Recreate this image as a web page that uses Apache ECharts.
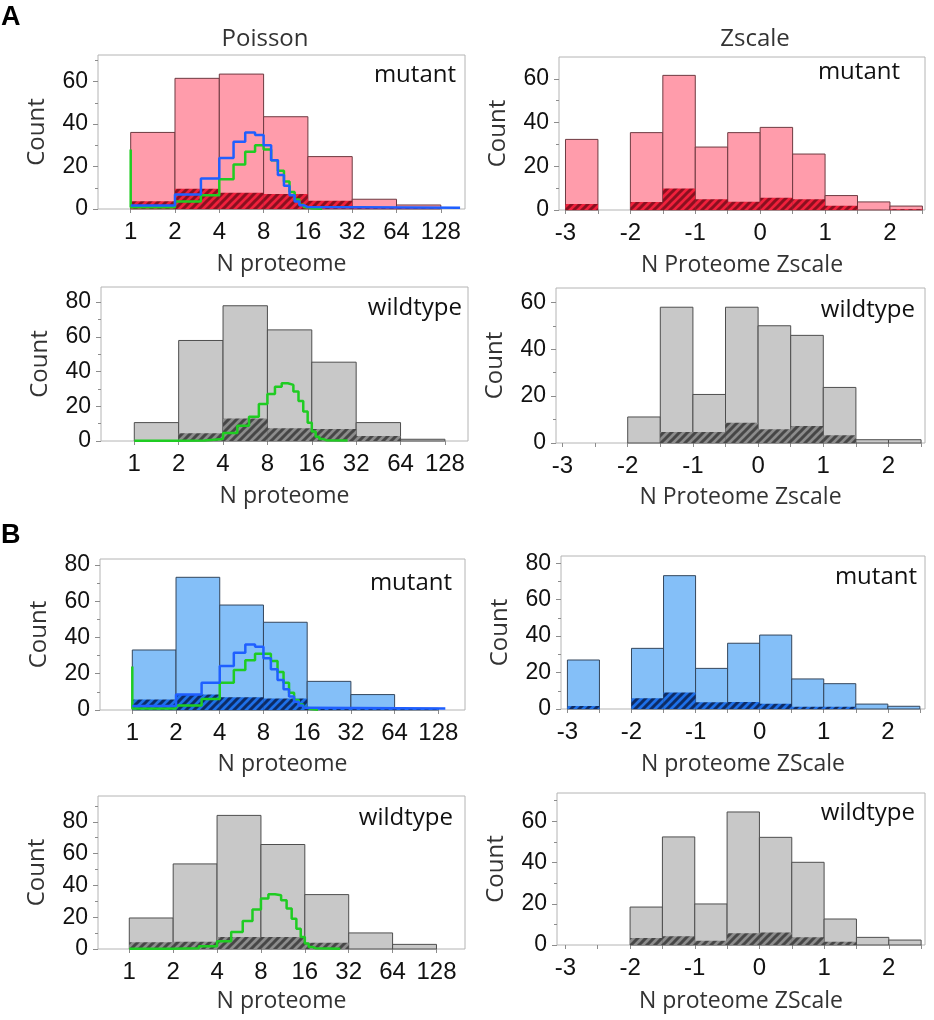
<!DOCTYPE html>
<html><head><meta charset="utf-8">
<script src="https://cdn.jsdelivr.net/npm/echarts@6/dist/echarts.min.js"></script>
<style>html,body{margin:0;padding:0;background:#fff}#c{width:934px;height:1020px}</style>
</head><body><div id="c"></div>
<script>
// ---------- DATA ----------
const poissonEdges = [1, 2, 4, 8, 16, 32, 64, 128];
const zscaleEdges = [-3, -2.5, -2, -1.5, -1, -0.5, 0, 0.5, 1, 1.5, 2, 2.5];
const poissonTickLabels = [1, 2, 4, 8, 16, 32, 64, 128];
const zscaleTicks = [-3, -2.5, -2, -1.5, -1, -0.5, 0, 0.5, 1, 1.5, 2, 2.5];
const zscaleTickLabels = [-3, -2, -1, 0, 1, 2];

// A - mutant
const aMutPoisTotal = [36.1, 61.6, 63.6, 43.5, 24.7, 4.6, 1.9];
const aMutPoisHatch = [3.6, 9.6, 7.7, 7.1, 3.9, 1.0, 0.5];
const aMutZTotal = [32.3, 0, 35.4, 61.6, 28.8, 35.4, 37.8, 25.6, 6.6, 3.7, 1.8];
const aMutZHatch = [2.7, 0, 3.7, 9.8, 4.9, 3.8, 5.6, 4.9, 2.0, 0, 0.4];
const aMutPoisGreen = [[1,28],[1,0.8],[2,3.5],[3,6.5],[4,14],[5,21],[6,27],[7,30],[8,28],[9,23],[10,18],[11,13],[12,8],[13,4.5],[14,2],[15,0.8],[16,0.3],[17,0.15],[20,0.15]];
const aMutPoisBlue = [[1,1.6],[2,6.8],[3,14.4],[4,24],[5,31.7],[6,36.1],[7,34.9],[8,30],[9,23],[10,16],[11,11],[12,6.5],[13,3.5],[14,1.8],[15,0.9],[16,0.6],[173,0.6]];
// A - wildtype
const aWtPoisTotal = [10.6, 57.9, 77.9, 64, 45.4, 10.6, 1.0];
const aWtPoisHatch = [0, 4.4, 13, 7.3, 6.9, 2.9, 0];
const aWtZTotal = [0, 0, 11.1, 57.9, 20.7, 57.9, 50, 45.9, 23.7, 1.4, 1.4];
const aWtZHatch = [0, 0, 0, 4.7, 4.7, 8.6, 5.9, 7.3, 3.3, 0, 0];
const aWtPoisGreen = [[1,0.1],[2,0.3],[3,1.2],[4,4.6],[5,8.8],[6,14],[7,21.3],[8,27],[9,31.3],[10,33.3],[11,32.3],[12,28.5],[13,23],[14,17],[15,10.5],[16,5.5],[17,2.5],[18,1.2],[19,0.5],[20,0.25],[28,0.25]];
// B - mutant
const bMutPoisTotal = [33.1, 73.2, 57.9, 48.4, 15.8, 8.5, 0.9];
const bMutPoisHatch = [5.8, 8.5, 7.0, 6.3, 1.0, 0.6, 0.5];
const bMutZTotal = [26.9, 0, 33.3, 73.2, 22.3, 36.1, 40.6, 16.5, 13.9, 2.7, 1.5];
const bMutZHatch = [1.6, 0, 5.9, 9.0, 3.7, 3.8, 2.9, 1.3, 1.3, 0, 0];
const bMutPoisGreen = [[1,24],[1,0.8],[2,2.5],[3,6],[4,15],[5,22],[6,27.5],[7,31],[8,31],[9,27],[10,21],[11,15],[12,9.5],[13,5.5],[14,3],[15,1.3],[16,0.5],[17,0.2],[19,0.2]];
const bMutPoisBlue = [[1,2.2],[2,8.6],[3,15.1],[4,24.3],[5,31.6],[6,36.2],[7,34.9],[8,28.5],[9,22.5],[10,16.5],[11,11.5],[12,7.4],[13,4.6],[14,2.5],[15,1.3],[16,0.8],[143,0.6]];
// B - wildtype
const bWtPoisTotal = [19.5, 53.5, 84, 65.7, 34.2, 10.1, 2.9];
const bWtPoisHatch = [4.2, 4.6, 7.6, 7.6, 4.0, 0, 0];
const bWtZTotal = [0, 0, 18.4, 52.4, 19.9, 64.5, 52.2, 40.1, 12.6, 3.7, 2.4];
const bWtZHatch = [0, 0, 3.4, 4.2, 2.1, 5.7, 6.1, 3.7, 1.6, 0, 0];
const bWtPoisGreen = [[1,0.1],[2,0.4],[3,1.7],[4,4.8],[5,10.7],[6,17.6],[7,24.8],[8,31.7],[9,34.4],[10,33.8],[11,30.7],[12,25.4],[13,19],[14,12.8],[15,7.5],[16,3.4],[17,1.3],[18,0.5],[19,0.2],[28,0.2]];

// ---------- STYLES ----------
const GREEN = '#1fcc22', BLUE = '#1f5fff';
function hatchCanvas(base, stripe) {
  const s = 8, c = document.createElement('canvas');
  c.width = s; c.height = s;
  const g = c.getContext('2d');
  g.fillStyle = base; g.fillRect(0, 0, s, s);
  g.strokeStyle = stripe; g.lineWidth = 3;
  g.beginPath();
  g.moveTo(0, s); g.lineTo(s, 0);
  g.moveTo(-s/2, s/2); g.lineTo(s/2, -s/2);
  g.moveTo(s/2, s*1.5); g.lineTo(s*1.5, s/2);
  g.stroke();
  return c;
}
const palettes = {
  red:  { fill: '#ff9cab', stroke: '#6e3a40', hatch: hatchCanvas('#f0203c', '#8a1020') },
  blue: { fill: '#84bff8', stroke: '#34465c', hatch: hatchCanvas('#1e70e8', '#0d2c66') },
  gray: { fill: '#c8c8c8', stroke: '#4e4e4e', hatch: hatchCanvas('#8c8c8c', '#474747') }
};
const TICKFONT = "'Liberation Sans', Arial, sans-serif";
const TEXTFONT = "'Open Sans', 'Noto Sans', sans-serif";

const panels = [
  { rect:[98,55,367,154], kind:'pois', x:[-0.738,7.546], yMax:72.6, maj:[0,20,40,60], mnr:[10,30,50,70], total:aMutPoisTotal, hatch:aMutPoisHatch, pal:'red', lines:[[aMutPoisGreen,GREEN],[aMutPoisBlue,BLUE]], tag:'mutant', tagPos:[456,75], xName:'N proteome', nameGap:44 },
  { rect:[559,57,366,153], kind:'z', x:[-3.1,2.54], yMax:70, maj:[0,20,40,60], mnr:[10,30,50], total:aMutZTotal, hatch:aMutZHatch, pal:'red', lines:[], tag:'mutant', tagPos:[900,72], xName:'N Proteome Zscale', nameGap:44 },
  { rect:[101,287,367,154], kind:'pois', x:[-0.75,7.52], yMax:88.7, maj:[0,20,40,60,80], mnr:[10,30,50,70], total:aWtPoisTotal, hatch:aWtPoisHatch, pal:'gray', lines:[[aWtPoisGreen,GREEN]], tag:'wildtype', tagPos:[462,308], xName:'N proteome', nameGap:44 },
  { rect:[556,288,369,155], kind:'z', x:[-3.1,2.56], yMax:66.1, maj:[0,20,40,60], mnr:[10,30,50], total:aWtZTotal, hatch:aWtZHatch, pal:'gray', lines:[], tag:'wildtype', tagPos:[915,310], xName:'N Proteome Zscale', nameGap:43 },
  { rect:[100,559,365,151], kind:'pois', x:[-0.739,7.61], yMax:83.3, maj:[0,20,40,60,80], mnr:[10,30,50,70], total:bMutPoisTotal, hatch:bMutPoisHatch, pal:'blue', lines:[[bMutPoisGreen,GREEN],[bMutPoisBlue,BLUE]], tag:'mutant', tagPos:[452,583], xName:'N proteome', nameGap:43 },
  { rect:[561,556,364,153], kind:'z', x:[-3.1,2.58], yMax:84, maj:[0,20,40,60,80], mnr:[10,30,50,70], total:bMutZTotal, hatch:bMutZHatch, pal:'blue', lines:[], tag:'mutant', tagPos:[917,577], xName:'N proteome ZScale', nameGap:44 },
  { rect:[98,796,367,153], kind:'pois', x:[-0.713,7.65], yMax:96.2, maj:[0,20,40,60,80], mnr:[10,30,50,70,90], total:bWtPoisTotal, hatch:bWtPoisHatch, pal:'gray', lines:[[bWtPoisGreen,GREEN]], tag:'wildtype', tagPos:[453,818], xName:'N proteome', nameGap:41 },
  { rect:[557,793,368,152], kind:'z', x:[-3.13,2.56], yMax:73.7, maj:[0,20,40,60], mnr:[10,30,50,70], total:bWtZTotal, hatch:bWtZHatch, pal:'gray', lines:[], tag:'wildtype', tagPos:[915,813], xName:'N proteome ZScale', nameGap:45 }
];

// ---------- BUILD ----------
const grids = [], xAxes = [], yAxes = [], series = [], graphics = [];
function rectRender(fillFn) {
  return function (params, api) {
    const p0 = api.coord([api.value(0), api.value(2)]);
    const p1 = api.coord([api.value(1), 0]);
    return { type: 'rect', shape: { x: p0[0], y: p0[1], width: p1[0] - p0[0], height: p1[1] - p0[1] }, style: fillFn() };
  };
}
panels.forEach((p, i) => {
  const pois = p.kind === 'pois';
  const tx = pois ? (v => Math.log2(v)) : (v => v);
  const edges = pois ? poissonEdges : zscaleEdges;
  const pal = palettes[p.pal];
  grids.push({ left: p.rect[0], top: p.rect[1], width: p.rect[2], height: p.rect[3], show: true, borderColor: '#b4b4b4', borderWidth: 1, backgroundColor: 'rgba(0,0,0,0)' });
  const tickVals = pois ? poissonTickLabels.map(tx) : zscaleTicks;
  const labelVals = pois ? poissonTickLabels.map(tx) : zscaleTickLabels;
  xAxes.push({
    gridIndex: i, type: 'value', min: p.x[0], max: p.x[1], position: 'bottom',
    axisLine: { show: false, onZero: false }, splitLine: { show: false },
    axisTick: { show: true, length: 4, customValues: tickVals, lineStyle: { color: '#8c8c8c' } },
    axisLabel: { customValues: labelVals, fontSize: 24, color: '#111', fontFamily: TICKFONT, margin: 11,
      formatter: v => pois ? String(Math.round(Math.pow(2, v))) : String(Math.round(v)) },
    name: p.xName, nameLocation: 'middle', nameGap: p.nameGap,
    nameTextStyle: { fontSize: 23, color: '#333', fontFamily: TEXTFONT }
  });
  yAxes.push({
    gridIndex: i, type: 'value', min: 0, max: p.yMax, position: 'left',
    axisLine: { show: false, onZero: false }, splitLine: { show: false },
    axisTick: { show: true, length: 5, customValues: p.maj, lineStyle: { color: '#8c8c8c' } },
    axisLabel: { customValues: p.maj, fontSize: 23, color: '#111', fontFamily: TICKFONT, margin: 10 },
    name: 'Count', nameLocation: 'middle', nameGap: 49, nameRotate: 90,
    nameTextStyle: { fontSize: 24, color: '#333', fontFamily: TEXTFONT }
  });
  yAxes.push({
    gridIndex: i, type: 'value', min: 0, max: p.yMax, position: 'left', offset: 0,
    axisLine: { show: false, onZero: false }, splitLine: { show: false }, axisLabel: { show: false },
    axisTick: { show: true, length: 3, customValues: p.mnr, lineStyle: { color: '#8c8c8c' } }
  });
  const totData = [], hatchData = [];
  p.total.forEach((v, k) => { if (v > 0) totData.push([tx(edges[k]), tx(edges[k + 1]), v]); });
  p.hatch.forEach((v, k) => { if (v > 0) hatchData.push([tx(edges[k]), tx(edges[k + 1]), v]); });
  series.push({
    type: 'custom', xAxisIndex: i, yAxisIndex: 2 * i, silent: true, encode: { x: [0, 1], y: 2 },
    data: totData, renderItem: rectRender(() => ({ fill: pal.fill, stroke: pal.stroke, lineWidth: 1 }))
  });
  series.push({
    type: 'custom', xAxisIndex: i, yAxisIndex: 2 * i, silent: true, encode: { x: [0, 1], y: 2 },
    data: hatchData, renderItem: rectRender(() => ({ fill: { image: pal.hatch, repeat: 'repeat' }, stroke: null, lineWidth: 0 }))
  });
  p.lines.forEach(([d, c]) => {
    series.push({
      type: 'line', step: 'end', xAxisIndex: i, yAxisIndex: 2 * i, silent: true, showSymbol: false, symbol: 'none',
      data: d.map(pt => [tx(pt[0]), pt[1]]), lineStyle: { color: c, width: 2.5 }, z: 5
    });
  });
  graphics.push({ type: 'text', x: p.tagPos[0], y: p.tagPos[1], silent: true,
    style: { text: p.tag, fontSize: 24, fontFamily: TEXTFONT, fill: '#111', align: 'right', verticalAlign: 'middle', textAlign: 'right', textVerticalAlign: 'middle' } });
});
graphics.push({ type: 'text', x: 1, y: 4, style: { text: 'A', fontSize: 27, fontWeight: 'bold', fontFamily: TICKFONT, fill: '#000' } });
graphics.push({ type: 'text', x: 1, y: 522, style: { text: 'B', fontSize: 27, fontWeight: 'bold', fontFamily: TICKFONT, fill: '#000' } });
graphics.push({ type: 'text', x: 265, y: 39, style: { text: 'Poisson', fontSize: 24, fontFamily: TEXTFONT, fill: '#333', align: 'center', verticalAlign: 'middle', textAlign: 'center', textVerticalAlign: 'middle' } });
graphics.push({ type: 'text', x: 755, y: 39, style: { text: 'Zscale', fontSize: 24, fontFamily: TEXTFONT, fill: '#333', align: 'center', verticalAlign: 'middle', textAlign: 'center', textVerticalAlign: 'middle' } });

const chart = echarts.init(document.getElementById('c'), null, { renderer: 'canvas' });
chart.setOption({
  backgroundColor: '#fff', animation: false,
  grid: grids, xAxis: xAxes, yAxis: yAxes, series: series, graphic: graphics
});
</script></body></html>
